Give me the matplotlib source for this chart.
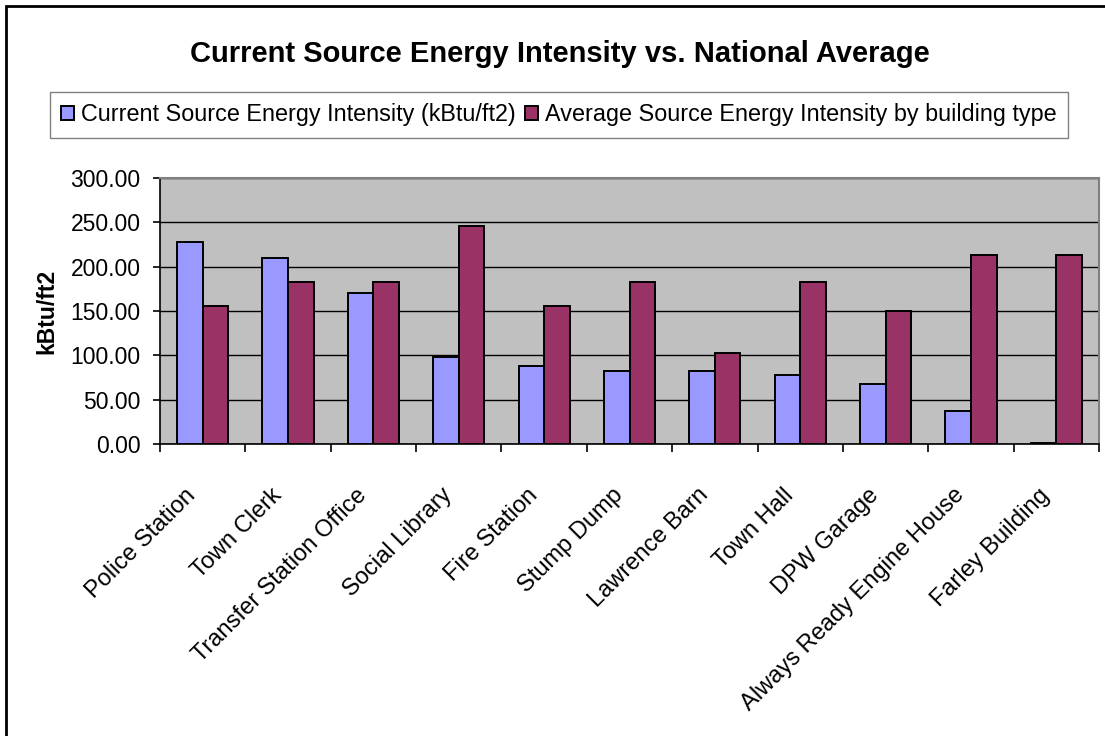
import numpy as np
from matplotlib import pyplot as plt
from matplotlib.patches import Rectangle
from matplotlib.transforms import ScaledTranslation

buildings = ["Police Station", "Town Clerk", "Transfer Station Office", "Social Library",
             "Fire Station", "Stump Dump", "Lawrence Barn", "Town Hall", "DPW Garage",
             "Always Ready Engine House", "Farley Building"]
current_eui = [227.6, 209.3, 170.0, 98.1, 88.0, 82.0, 82.0, 77.9, 67.8, 37.0, 1.5]
average_eui = [155.7, 182.4, 182.4, 246.0, 155.7, 182.4, 102.6, 182.4, 149.8, 213.5, 213.5]
yticks = [0, 50, 100, 150, 200, 250, 300]


def main():
    plt.rcParams['font.family'] = ['Liberation Sans', 'DejaVu Sans']
    fig = plt.figure(figsize=(11.05, 7.36), dpi=100)
    ax = fig.add_axes([160 / 1105, 1 - 444 / 736, 939 / 1105, 266 / 736])

    x = np.arange(len(buildings))
    w = 0.3
    b1 = ax.bar(x - w / 2, current_eui, w, color='#9999FF', edgecolor='black', linewidth=1.4,
                label='Current Source Energy Intensity (kBtu/ft2)', zorder=3)
    b2 = ax.bar(x + w / 2, average_eui, w, color='#993366', edgecolor='black', linewidth=1.4,
                label='Average Source Energy Intensity by building type', zorder=3)

    ax.set_facecolor('#C0C0C0')
    ax.set_xlim(-0.5, len(buildings) - 0.5)
    ax.set_ylim(0, 300)
    ax.set_yticks(yticks)
    ax.set_yticklabels([f"{v:.2f}" for v in yticks], fontsize=16.5)
    ax.yaxis.grid(True, color='black', linewidth=1)
    ax.set_axisbelow(True)

    ax.set_xticks(x)
    ax.set_xticks(np.arange(len(buildings) + 1) - 0.5, minor=True)
    ax.tick_params(axis='x', which='major', length=0, pad=0)
    ax.tick_params(axis='x', which='minor', length=6, width=1.2, color='black', direction='out')
    ax.tick_params(axis='y', length=5, width=1.2, direction='out', pad=9)
    ax.set_xticklabels(buildings, rotation=45, ha='right', va='center',
                       rotation_mode='anchor', fontsize=17)
    # excel puts the rotated labels a bit down-left of the category centre
    shift = ScaledTranslation(-0.10, -0.48, fig.dpi_scale_trans)
    for lab in ax.xaxis.get_majorticklabels():
        lab.set_transform(lab.get_transform() + shift)

    for side in ('top', 'right'):
        ax.spines[side].set_color('#808080')
        ax.spines[side].set_linewidth(1.5)
    ax.spines['left'].set_linewidth(1.2)
    ax.spines['bottom'].set_linewidth(1.2)

    ax.set_ylabel('kBtu/ft2', fontsize=16.5, fontweight='bold', labelpad=9)

    fig.text(0.507, 0.927, 'Current Source Energy Intensity vs. National Average',
             ha='center', va='center', fontsize=21, fontweight='bold')

    leg = fig.legend(handles=[b1, b2], loc='center', bbox_to_anchor=(0.506, 0.844), ncol=2,
                     fontsize=16.8, frameon=True, fancybox=False, handlelength=0.55,
                     handleheight=0.55, handletextpad=0.3, columnspacing=0.4,
                     borderpad=0.5, borderaxespad=0)
    leg.get_frame().set_edgecolor('#606060')
    leg.get_frame().set_linewidth(1)

    fig.patches.append(Rectangle((6 / 1105, -0.1), 1.2, 1 - 6 / 736 + 0.1, transform=fig.transFigure,
                                 fill=False, edgecolor='black', linewidth=2))

    plt.savefig("out.png", dpi=100)


if __name__ == "__main__":
    main()
